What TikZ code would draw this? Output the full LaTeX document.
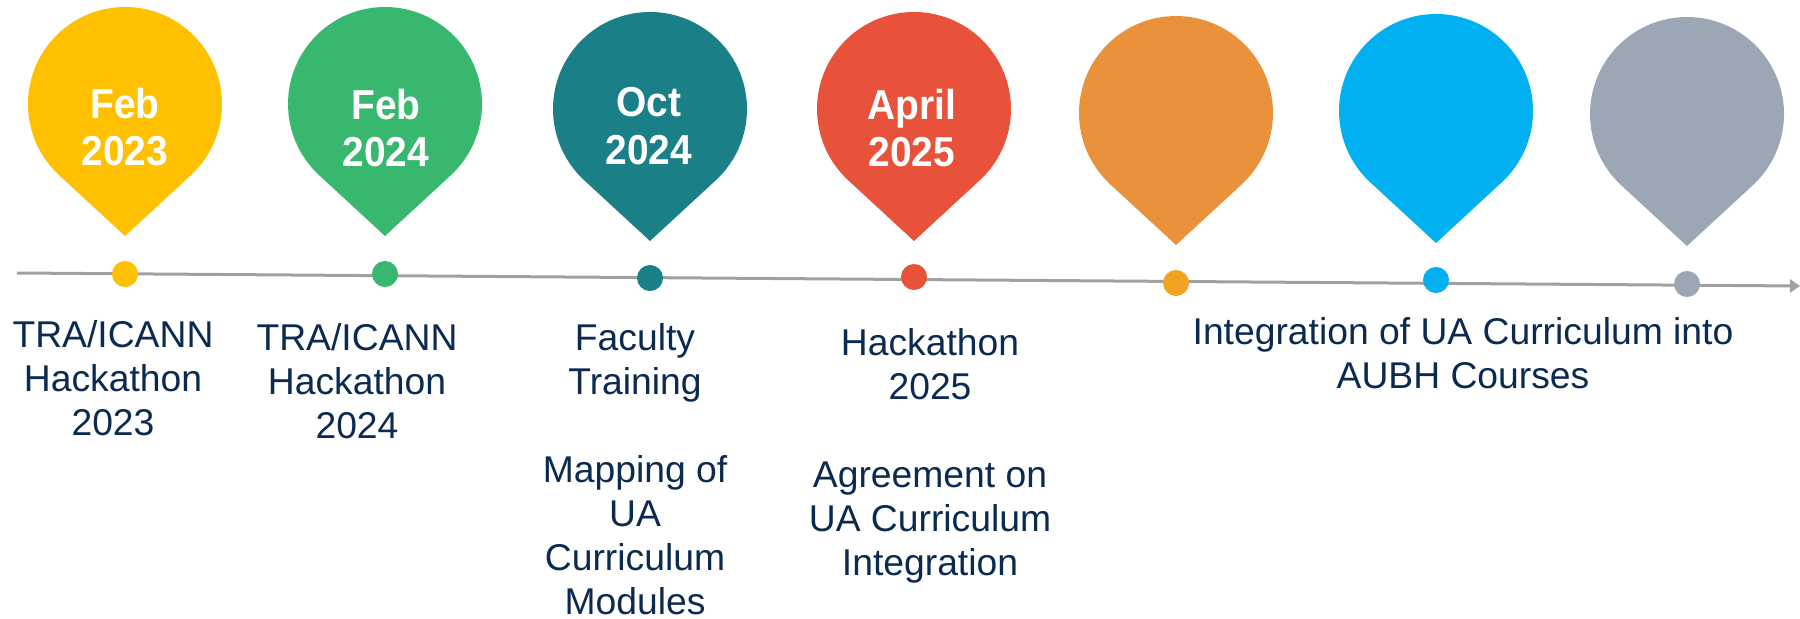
\documentclass[tikz,border=0pt]{standalone}
\usepackage{fontspec}
\setmainfont{Liberation Sans}
\newfontfamily\pinsans[FakeStretch=0.93]{Liberation Sans}
\usetikzlibrary{arrows.meta}

\definecolor{pinyellow}{HTML}{FFC000}
\definecolor{pingreen}{HTML}{38B76E}
\definecolor{pinteal}{HTML}{1A7F86}
\definecolor{pinred}{HTML}{E9523A}
\definecolor{pinorange}{HTML}{E9913B}
\definecolor{dotorange}{HTML}{F2A31F}
\definecolor{pinblue}{HTML}{00B0F0}
\definecolor{pingrey}{HTML}{9BA7B5}
\definecolor{axisgrey}{HTML}{A0A0A0}
\definecolor{navytext}{HTML}{0B2A4F}

\begin{document}
\begin{tikzpicture}[x=0.01cm, y=-0.01cm,
  evtext/.style={text=navytext, align=center, anchor=north, inner sep=0pt,
    font=\fontsize{10.6pt}{12.5pt}\selectfont},
  pintext/.style={text=white, align=center, anchor=north, inner sep=0pt,
    font=\pinsans\bfseries\fontsize{11.9pt}{13.4pt}\selectfont},
  tdot/.style={circle, inner sep=0pt, minimum size=0.26cm}]

\useasboundingbox (0,0) rectangle (1800,618);

\fill[pinyellow] (125,104) ++(132.7:97) arc[start angle=132.7, end angle=407.3, radius=97] -- (125,236) -- cycle;
\fill[pingreen] (385,104) ++(132.7:97) arc[start angle=132.7, end angle=407.3, radius=97] -- (385,236) -- cycle;
\fill[pinteal] (650,109) ++(132.7:97) arc[start angle=132.7, end angle=407.3, radius=97] -- (650,241) -- cycle;
\fill[pinred] (914,109) ++(132.7:97) arc[start angle=132.7, end angle=407.3, radius=97] -- (914,241) -- cycle;
\fill[pinorange] (1176,113) ++(132.7:97) arc[start angle=132.7, end angle=407.3, radius=97] -- (1176,245) -- cycle;
\fill[pinblue] (1436,111) ++(132.7:97) arc[start angle=132.7, end angle=407.3, radius=97] -- (1436,243) -- cycle;
\fill[pingrey] (1687,114) ++(132.7:97) arc[start angle=132.7, end angle=407.3, radius=97] -- (1687,246) -- cycle;

\node[pintext] (date1) at (125,87) {Feb\\2023};
\node[pintext] (date2) at (386,88) {Feb\\2024};
\node[pintext] (date3) at (649,87) {Oct\\2024};
\node[pintext] (date4) at (912,88) {April\\2025};

%axis
\coordinate (axisstart) at (17,273);
\coordinate (axisend) at (1800,286);
\draw[axisgrey, line width=0.03cm, -{Triangle[length=0.1cm, width=0.13cm]}] (axisstart) -- (axisend);

\node[tdot, fill=pinyellow] (dot1) at (125,274) {};
\node[tdot, fill=pingreen] (dot2) at (385,274) {};
\node[tdot, fill=pinteal] (dot3) at (650,278) {};
\node[tdot, fill=pinred] (dot4) at (914,277) {};
\node[tdot, fill=dotorange] (dot5) at (1176,283) {};
\node[tdot, fill=pinblue] (dot6) at (1436,280) {};
\node[tdot, fill=pingrey] (dot7) at (1687,284) {};

\node[evtext] (event1) at (113,320) {TRA/ICANN\\Hackathon\\2023};
\node[evtext] (event2) at (357,323) {TRA/ICANN\\Hackathon\\2024};
\node[evtext] (event3) at (635,323) {Faculty\\Training};
\node[evtext] (event3b) at (635,455) {Mapping of\\UA\\Curriculum\\Modules};
\node[evtext] (event4) at (930,328) {Hackathon\\2025};
\node[evtext] (event4b) at (930,461) {Agreement on\\UA Curriculum\\Integration};
\node[evtext] (event5) at (1463,317) {Integration of UA Curriculum into\\AUBH Courses};

\end{tikzpicture}
\end{document}
